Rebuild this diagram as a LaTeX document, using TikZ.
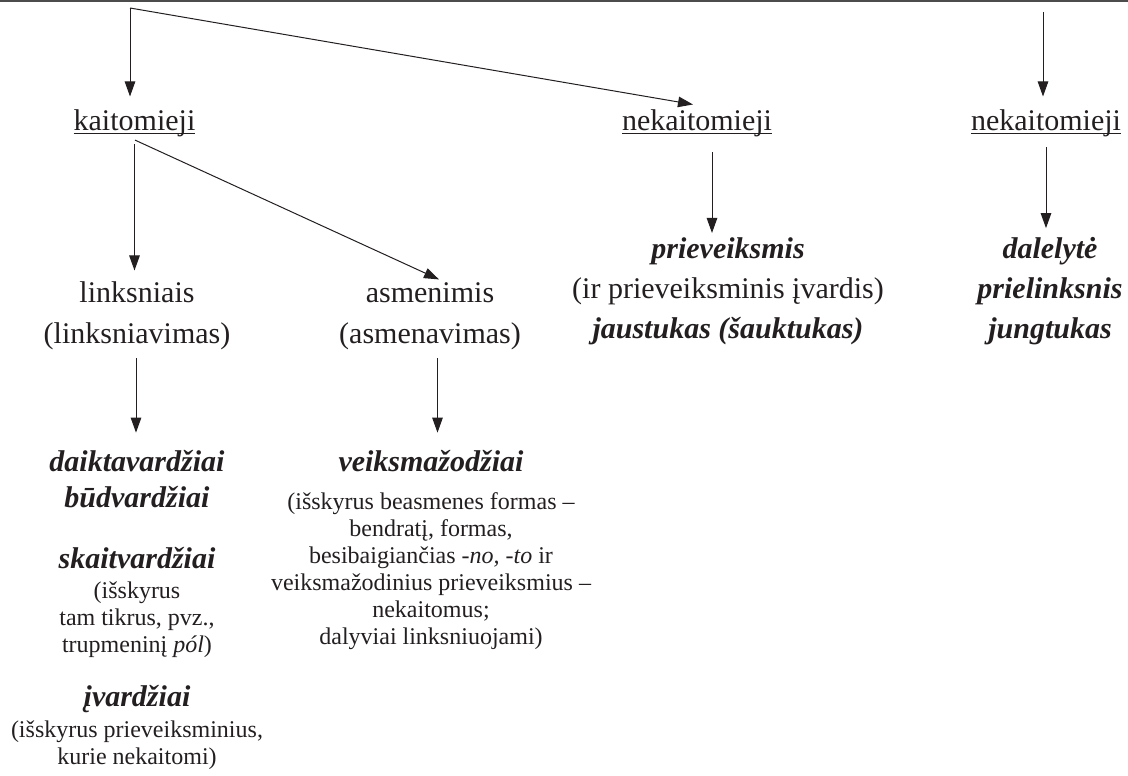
\documentclass[tikz,border=0pt]{standalone}
\usepackage{fontspec}
\setmainfont{Liberation Serif}
\usetikzlibrary{arrows.meta}
\newcommand\ulword[1]{\setbox0\hbox{#1}\rlap{\rule[-3pt]{\wd0}{1.1pt}}\box0}
\definecolor{ink}{HTML}{231F20}
\tikzset{
  big/.style={font={\fontsize{30}{41}\selectfont}, text=ink, inner sep=0pt, anchor=base, align=center},
  bigbi/.style={big, font={\fontsize{30}{36}\selectfont\bfseries\itshape}},
  bigbiw/.style={big, font={\fontsize{30}{40}\selectfont\bfseries\itshape}},
  small/.style={font={\fontsize{24}{27}\selectfont}, text=ink, inner sep=0pt, anchor=base, align=center},
  arr/.style={line width=1pt, draw=ink, -{Triangle[length=15pt,width=10.5pt]}},
}
\begin{document}
\begin{tikzpicture}[x=1pt,y=-1pt]
\useasboundingbox (0,0) rectangle (1128,776);
\draw[line width=2pt, black!70] (0,1) -- (1128,1);

% (multi-line nodes are placed at the baseline of their last line)
% top level
\node[big] (kait) at (134.5,131) {\ulword{kaitomieji}};
\node[big] (nek1) at (697,131) {\ulword{nekaitomieji}};
\node[big] (nek2) at (1046,131) {\ulword{nekaitomieji}};

% second level
\node[big] (links) at (137,343) {linksniais\\(linksniavimas)};
\node[big] (asm) at (430,343) {asmenimis\\(asmenavimas)};

% left column
\node[bigbi] (daik) at (137,507) {daiktavardžiai\\būdvardžiai};
\node[bigbi] (skait) at (137,568) {skaitvardžiai};
\node[small] (skaitn) at (137,652) {(išskyrus\\tam tikrus, pvz.,\\trupmeninį \textit{pól})};
\node[bigbi] (ivard) at (137,706) {įvardžiai};
\node[small] (ivardn) at (137,764) {(išskyrus prieveiksminius,\\kurie nekaitomi)};

% second column
\node[bigbi] (veiks) at (431,471) {veiksmažodžiai};
\node[small] (veiksn) at (431,644) {(išskyrus beasmenes formas –\\bendratį, formas,\\besibaigiančias \textit{-no, -to} ir\\veiksmažodinius prieveiksmius –\\nekaitomus;\\dalyviai linksniuojami)};

% middle column
\node[bigbi] (priev) at (728,258) {prieveiksmis};
\node[big] (privn) at (728,298) {(ir prieveiksminis įvardis)};
\node[bigbi] (jaust) at (728,338) {jaustukas (šauktukas)};

% right column
\node[bigbiw] (dal) at (1050,338) {dalelytė\\prielinksnis\\jungtukas};

% connectors
\coordinate (root) at (130,8);
\coordinate (top3) at (1043,12);
\draw[arr] (root) -- ([yshift=13.5pt]kait.north -| root);
\draw[arr] (root) -- ([xshift=-4pt,yshift=5.5pt]nek1.north);
\draw[arr] (top3) -- ([yshift=13.5pt]nek2.north -| top3);

\draw[arr] ([yshift=-6.5pt]kait.south) -- ([yshift=10.5pt]links.north -| kait.south);
\draw[arr] ([xshift=0.5pt,yshift=-2.5pt]kait.south) -- ([xshift=9pt,yshift=2.5pt]asm.north);

\coordinate (c6) at ([xshift=-1pt]links.south);
\draw[arr] ([yshift=-8.5pt]c6) -- ([yshift=17pt]daik.north -| c6);
\coordinate (c7) at ([xshift=7.5pt]asm.south);
\draw[arr] ([yshift=-8.5pt]c7) -- ([yshift=17pt]veiks.north -| c7);

\coordinate (c8) at ([xshift=15pt]nek1.south);
\draw[arr] ([yshift=-14.5pt]c8) -- ([yshift=4pt]priev.north -| c8);
\draw[arr] ([yshift=-9.5pt]nek2.south) -- ([yshift=8.5pt]dal.north -| nek2.south);
\end{tikzpicture}
\end{document}
